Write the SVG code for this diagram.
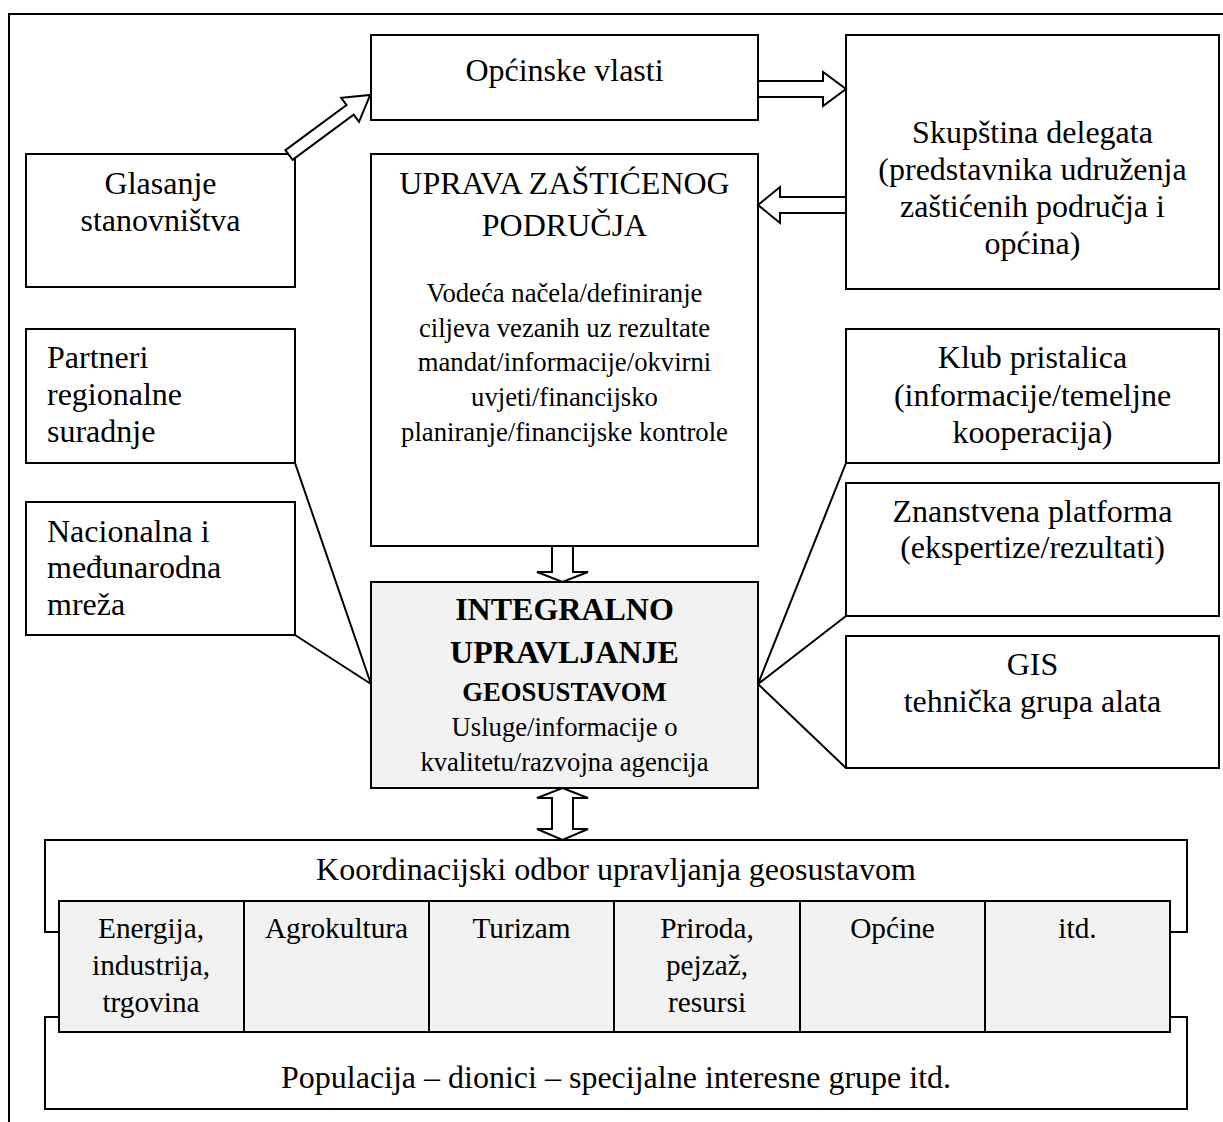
<svg xmlns="http://www.w3.org/2000/svg" width="1223" height="1122" viewBox="0 0 1223 1122">
<style>
.box{fill:#fff;stroke:#000;stroke-width:2}
.grey{fill:#f2f2f2;stroke:#000;stroke-width:2}
.ln{fill:none;stroke:#000;stroke-width:2}
.arr{fill:#fff;stroke:#000;stroke-width:2;stroke-linejoin:miter}
text{font-family:"Liberation Serif","Times New Roman",serif;fill:#000}
.t32{font-size:32px}
.t27{font-size:26.7px}
.t29{font-size:29.3px}
.c{text-anchor:middle}
.b{font-weight:bold}
</style>
<rect width="1223" height="1122" fill="#fff"/>
<path class="ln" d="M1223,14 H9 V1122" stroke="#222"/>

<g id="opcinske">
<rect class="box" x="371" y="35" width="387" height="85"/>
<text class="t32 c" x="564.5" y="81">Općinske vlasti</text>
</g>
<g id="skupstina">
<rect class="box" x="846" y="35" width="373" height="254"/>
<text class="t32 c" x="1032.5" y="143">Skupština delegata</text>
<text class="t32 c" x="1032.5" y="180">(predstavnika udruženja</text>
<text class="t32 c" x="1032.5" y="217">zaštićenih područja i</text>
<text class="t32 c" x="1032.5" y="254">općina)</text>
</g>
<g id="glasanje">
<rect class="box" x="26" y="154" width="269" height="133"/>
<text class="t32 c" x="160.5" y="194">Glasanje</text>
<text class="t32 c" x="160.5" y="231">stanovništva</text>
</g>
<g id="uprava">
<rect class="box" x="371" y="154" width="387" height="392"/>
<text class="t32 c" x="564.5" y="194">UPRAVA ZAŠTIĆENOG</text>
<text class="t32 c" x="564.5" y="236">PODRUČJA</text>
<text class="t27 c" x="564.5" y="302">Vodeća načela/definiranje</text>
<text class="t27 c" x="564.5" y="337">ciljeva vezanih uz rezultate</text>
<text class="t27 c" x="564.5" y="371">mandat/informacije/okvirni</text>
<text class="t27 c" x="564.5" y="406">uvjeti/financijsko</text>
<text class="t27 c" x="564.5" y="441">planiranje/financijske kontrole</text>
</g>
<g id="partneri">
<rect class="box" x="26" y="329" width="269" height="134"/>
<text class="t32" x="47" y="368">Partneri</text>
<text class="t32" x="47" y="405">regionalne</text>
<text class="t32" x="47" y="442">suradnje</text>
</g>
<g id="nacionalna">
<rect class="box" x="26" y="502" width="269" height="133"/>
<text class="t32" x="47" y="542">Nacionalna i</text>
<text class="t32" x="47" y="578">međunarodna</text>
<text class="t32" x="47" y="615">mreža</text>
</g>
<g id="klub">
<rect class="box" x="846" y="329" width="373" height="134"/>
<text class="t32 c" x="1032.5" y="368">Klub pristalica</text>
<text class="t32 c" x="1032.5" y="406">(informacije/temeljne</text>
<text class="t32 c" x="1032.5" y="443">kooperacija)</text>
</g>
<g id="znanstvena">
<rect class="box" x="846" y="483" width="373" height="133"/>
<text class="t32 c" x="1032.5" y="522">Znanstvena platforma</text>
<text class="t32 c" x="1032.5" y="558">(ekspertize/rezultati)</text>
</g>
<g id="gis">
<rect class="box" x="846" y="636" width="373" height="132"/>
<text class="t32 c" x="1032.5" y="675">GIS</text>
<text class="t32 c" x="1032.5" y="712">tehnička grupa alata</text>
</g>
<g id="integralno">
<rect class="grey" x="371" y="582" width="387" height="206"/>
<text class="t32 c b" x="564.5" y="620">INTEGRALNO</text>
<text class="t32 c b" x="564.5" y="663">UPRAVLJANJE</text>
<text class="t27 c b" x="564.5" y="701">GEOSUSTAVOM</text>
<text class="t27 c" x="564.5" y="736">Usluge/informacije o</text>
<text class="t27 c" x="564.5" y="771">kvalitetu/razvojna agencija</text>
</g>

<g id="koordinacijski">
<path class="ln" d="M59,932 H45 V840 H1187 V932 H1170"/>
<text class="t32 c" x="616" y="880">Koordinacijski odbor upravljanja geosustavom</text>
</g>
<g id="populacija">
<path class="ln" d="M59,1017 H45 V1109 H1187 V1017 H1170"/>
<text class="t32 c" x="616" y="1088">Populacija – dionici – specijalne interesne grupe itd.</text>
</g>
<g id="sektori">
<rect class="grey" x="59" y="901" width="1111" height="131"/>
<path class="ln" d="M244,901 V1032 M429,901 V1032 M614,901 V1032 M800,901 V1032 M985,901 V1032"/>
<text class="t29 c" x="151" y="938">Energija,</text>
<text class="t29 c" x="151" y="975">industrija,</text>
<text class="t29 c" x="151" y="1012">trgovina</text>
<text class="t29 c" x="336.5" y="938">Agrokultura</text>
<text class="t29 c" x="521.5" y="938">Turizam</text>
<text class="t29 c" x="707" y="938">Priroda,</text>
<text class="t29 c" x="707" y="975">pejzaž,</text>
<text class="t29 c" x="707" y="1012">resursi</text>
<text class="t29 c" x="892.5" y="938">Općine</text>
<text class="t29 c" x="1077.5" y="938">itd.</text>
</g>

<g id="connectors">
<polygon class="arr" transform="translate(289,155) rotate(-36.5)" points="0,-6 76,-6 76,-15 101,0 76,15 76,6 0,6"/>
<polygon class="arr" points="758,81 823,81 823,72 846,89 823,106 823,97 758,97"/>
<polygon class="arr" points="846,197 780,197 780,187 758,205 780,223 780,213 846,213"/>
<polygon class="arr" points="552,546 552,572 537,572 562.5,582 588,572 573,572 573,546"/>
<polygon class="arr" points="562.5,788 588,798 573,798 573,829 588,829 562.5,840 537,829 552,829 552,798 537,798"/>
<path class="ln" d="M295,463 L371,684 M295,635 L371,684"/>
<path class="ln" d="M846,463 L758,684 M846,616 L758,684 M846,768 L758,684"/>
</g>
</svg>
